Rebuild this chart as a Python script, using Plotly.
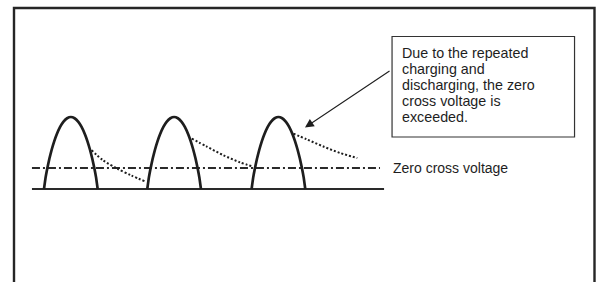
import plotly.graph_objects as go

# ---- data (time in ms, voltage normalised to pulse peak = 1) ----
pulse_starts = [0.0, 9.95, 20.0]
pulse_t = [0, 0.155, 0.31, 0.517, 0.739, 0.982, 1.22, 1.551, 1.861, 2.223, 2.585,
           2.947, 3.309, 3.619, 3.95, 4.188, 4.431, 4.653, 4.86, 5.015, 5.17]
pulse_v = [0, 0.161, 0.282, 0.420, 0.545, 0.662, 0.757, 0.862, 0.933, 0.983, 1.0,
           0.983, 0.933, 0.862, 0.757, 0.662, 0.545, 0.420, 0.282, 0.161, 0]

decay1_t = [4.58, 5.68, 7.03, 8.38, 9.83]
decay1_v = [0.54, 0.40, 0.285, 0.19, 0.10]
decay2_t = [14.23, 15.67, 17.27, 18.88, 20.16]
decay2_v = [0.70, 0.59, 0.47, 0.37, 0.31]
decay3_t = [24.02, 25.31, 26.91, 28.52, 30.18]
decay3_v = [0.77, 0.69, 0.59, 0.50, 0.43]

baseline_t = [-1.16, 32.76]
baseline_v = [0, 0]
zero_cross_t = [-1.16, 32.37]
zero_cross_level = 0.29

zero_cross_label = "Zero cross voltage"
note_lines = ["Due to the repeated", "charging and", "discharging, the zero",
              "cross voltage is", "exceeded."]

FONT = "Liberation Sans, Arial, Helvetica, sans-serif"
INK = "#1e1e1e"

fig = go.Figure()

# baseline
fig.add_trace(go.Scatter(x=baseline_t, y=baseline_v, mode="lines",
                         line=dict(color="#2a2a2a", width=2), hoverinfo="skip"))
# zero-cross voltage level (dash-dot)
fig.add_trace(go.Scatter(x=zero_cross_t, y=[zero_cross_level] * len(zero_cross_t),
                         mode="lines",
                         line=dict(color="#2a2a2a", width=2, dash="8px,3px,2px,3px"),
                         hoverinfo="skip"))
# pulses
for s in pulse_starts:
    fig.add_trace(go.Scatter(x=[s + t for t in pulse_t], y=pulse_v, mode="lines",
                             line=dict(color=INK, width=2.7, shape="spline", smoothing=0.4),
                             hoverinfo="skip"))
# decay (dotted)
for dt, dv in [(decay1_t, decay1_v), (decay2_t, decay2_v), (decay3_t, decay3_v)]:
    fig.add_trace(go.Scatter(x=dt, y=dv, mode="lines",
                             line=dict(color=INK, width=2, dash="2px,2px",
                                       shape="spline", smoothing=0.8),
                             hoverinfo="skip"))

# outer frame (open at the bottom, cut by the picture edge)
fig.add_shape(type="rect", xref="paper", yref="paper",
              x0=14 / 598, x1=594.5 / 598, y0=-0.2, y1=1 - 8 / 282,
              line=dict(color="#262626", width=2.4))

# note box
fig.add_shape(type="rect", xref="x", yref="y", x0=33.53, x1=51.11, y0=0.722, y1=2.118,
              line=dict(color="#333333", width=1.2))
line_step = 0.2222
for i, txt in enumerate(note_lines):
    fig.add_annotation(x=34.25, y=1.889 - i * line_step, xref="x", yref="y",
                       xanchor="left", yanchor="middle",
                       text=txt, showarrow=False, align="left",
                       font=dict(family=FONT, size=14.3, color=INK))
# arrow from note box to the third decay curve
fig.add_annotation(x=25.14, y=0.854, ax=33.43, ay=1.653, xref="x", yref="y",
                   axref="x", ayref="y", text="", showarrow=True,
                   arrowhead=2, arrowsize=1.6, arrowwidth=1.1, arrowcolor=INK)
# zero cross label
fig.add_annotation(x=33.45, y=zero_cross_level, xref="x", yref="y",
                   xanchor="left", yanchor="middle", text=zero_cross_label,
                   showarrow=False, font=dict(family=FONT, size=14, color=INK))

fig.update_layout(
    width=598, height=282, margin=dict(l=0, r=0, t=0, b=0),
    paper_bgcolor="white", plot_bgcolor="white", showlegend=False,
    xaxis=dict(range=[-4.239, 53.37], visible=False, fixedrange=True),
    yaxis=dict(range=[-1.2917, 2.625], visible=False, fixedrange=True),
)

fig.write_html("out.html", config={"displayModeBar": False},
               post_script="document.body.style.margin='0px';document.body.style.overflow='hidden';")
